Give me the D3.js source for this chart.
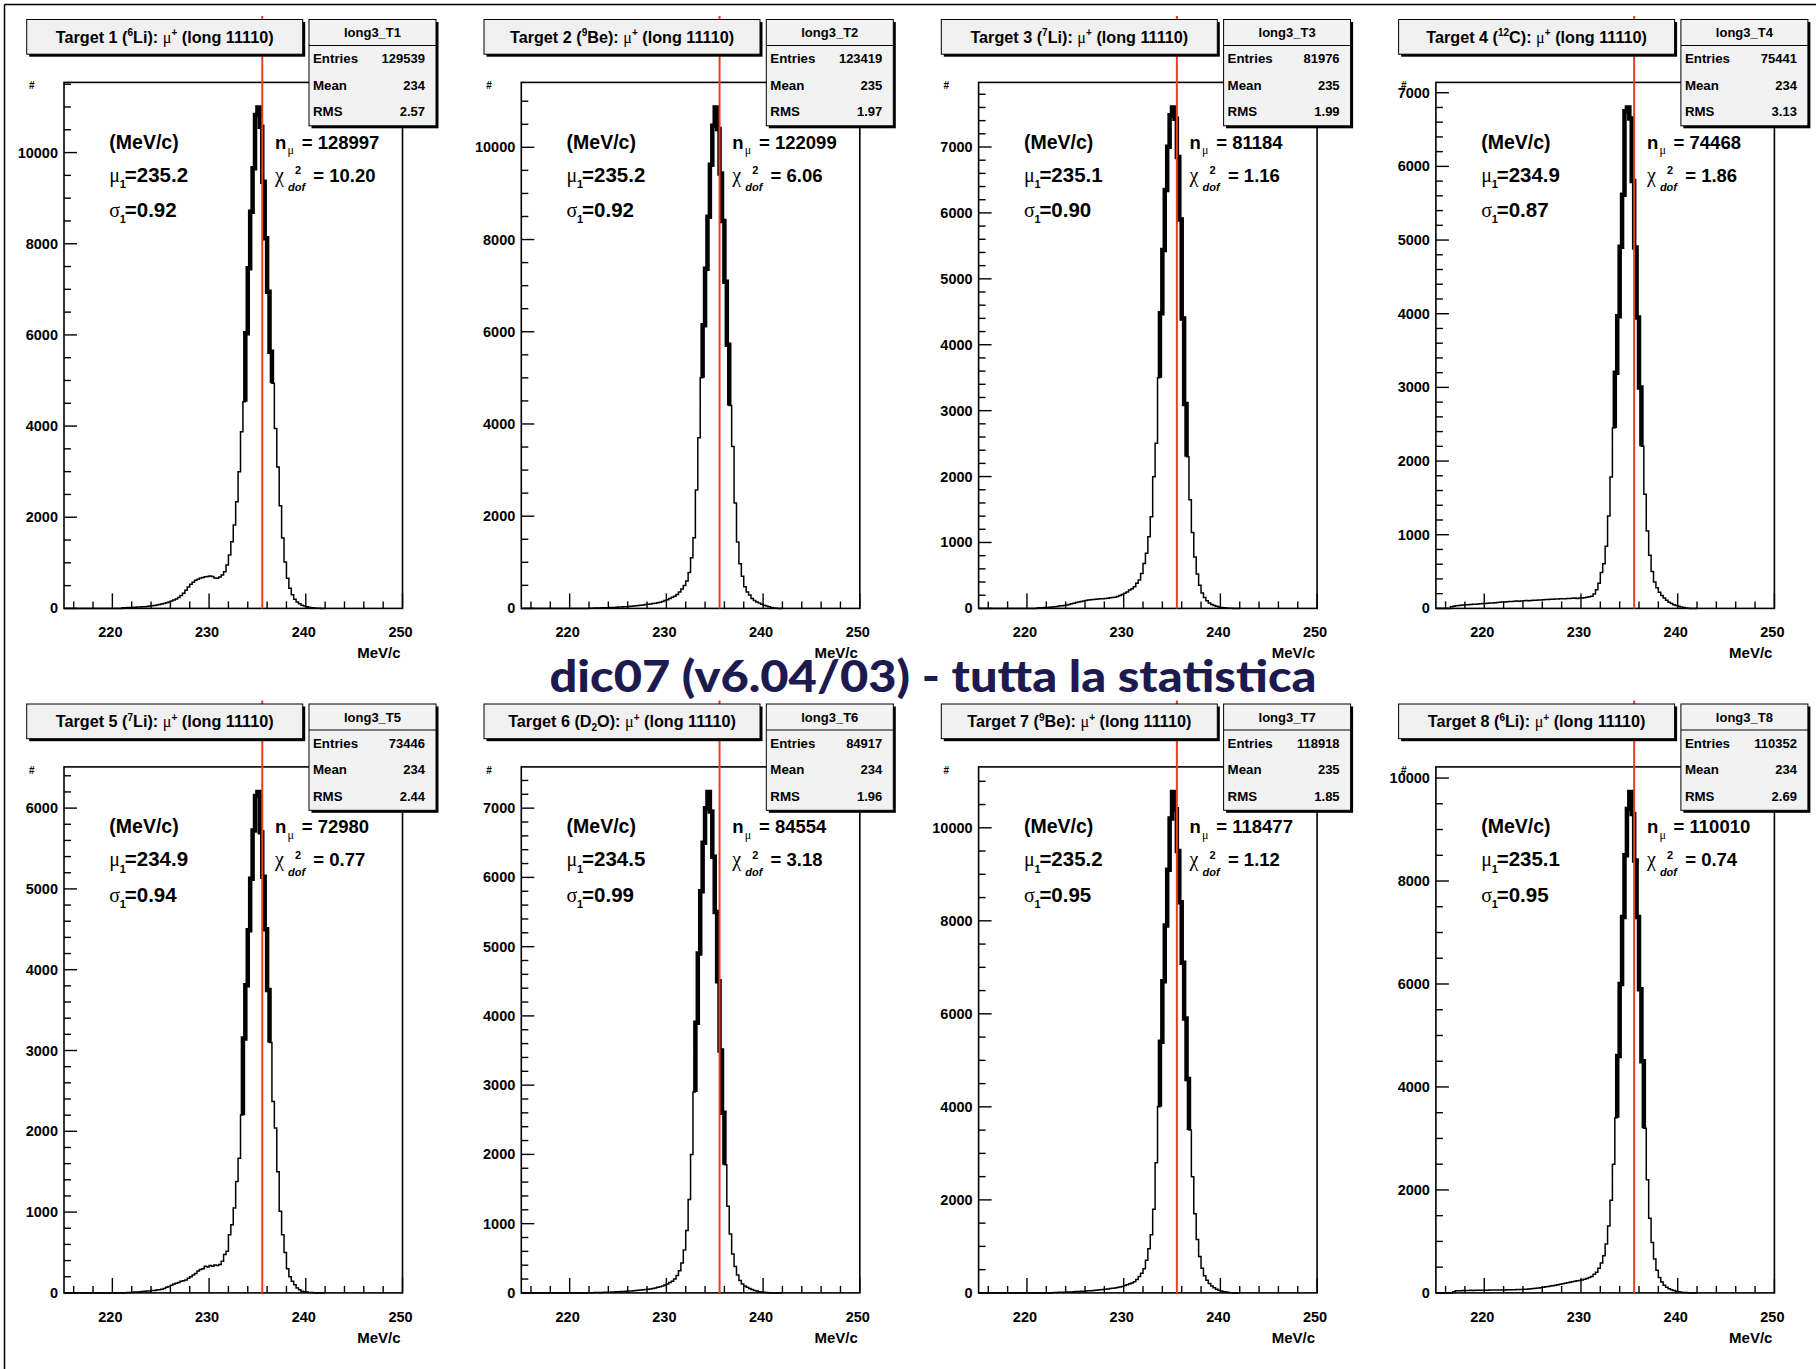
<!DOCTYPE html>
<html><head><meta charset="utf-8">
<script src="https://cdn.jsdelivr.net/npm/d3@7/dist/d3.min.js"></script>
<style>body{margin:0;background:#fff}svg{display:block}</style>
</head><body>
<script>
// ---------------- data ----------------
const binStart = 216, binWidth = 0.25;            // bins of 0.25 MeV/c, from 216 to 242
const xDomain = [215, 250];
const xMajorTicks = [220, 230, 240, 250];
const xMinorStep = 2;
const refLine = 235.5;                              // red reference line (MeV/c)

const histNames = ["long3_T1","long3_T2","long3_T3","long3_T4","long3_T5","long3_T6","long3_T7","long3_T8"];
const titles = [
  "Target 1 (^{6}Li): μ^{+} (long 11110)",
  "Target 2 (^{9}Be): μ^{+} (long 11110)",
  "Target 3 (^{7}Li): μ^{+} (long 11110)",
  "Target 4 (^{12}C): μ^{+} (long 11110)",
  "Target 5 (^{7}Li): μ^{+} (long 11110)",
  "Target 6 (D_{2}O): μ^{+} (long 11110)",
  "Target 7 (^{9}Be): μ^{+} (long 11110)",
  "Target 8 (^{6}Li): μ^{+} (long 11110)"
];
const entries = ["129539","123419","81976","75441","73446","84917","118918","110352"];
const means   = ["234","235","235","234","234","234","235","234"];
const rmss    = ["2.57","1.97","1.99","3.13","2.44","1.96","1.85","2.69"];
const nMu     = ["128997","122099","81184","74468","72980","84554","118477","110010"];
const chi2dof = ["10.20","6.06","1.16","1.86","0.77","3.18","1.12","0.74"];
const mu1     = [235.2, 235.2, 235.1, 234.9, 234.9, 234.5, 235.2, 235.1];
const sigma1  = [0.92, 0.92, 0.90, 0.87, 0.94, 0.99, 0.95, 0.95];
const yMajor  = [2000, 2000, 1000, 1000, 1000, 1000, 2000, 2000];
const yMinor  = [500, 500, 200, 200, 200, 200, 500, 500];
const mainTitle = "dic07 (v6.04/03) - tutta la statistica";

// bin contents, 4 bins per MeV/c, rows start at 216,217,...,241
const countsT1 = [
  0,0,0,0, 0,0,0,0, 0,0,0,0, 0,0,0,0, 0,0,0,0,
  12,15,18,20, 22,25,28,30, 35,38,44,50, 58,66,75,86, 98,110,126,142,
  160,182,205,238, 285,335,400,470, 530,575,615,640, 668,680,692,700, 712,698,668,662,
  690,735,804,951, 1170,1463,1828,2340, 2998,3876,4535,6035, 7461,8704,9655,10825,
  10990,10568,9362,8120, 6948,5632,4938,3949, 3100,2250,1545,1020, 660,440,300,200,
  140,100,70,50, 35,25,15,10, 6,3,0,0];
const countsT2 = [
  0,0,0,0, 0,0,0,0, 0,0,0,0, 0,0,0,0, 0,0,0,0, 0,0,0,0,
  3,5,6,8, 10,12,14,16, 18,20,22,25, 28,31,35,38, 42,47,52,58, 64,70,76,82,
  90,98,106,114, 122,135,150,170, 190,216,240,263, 300,357,420,499,
  593,780,1100,1533, 2568,3700,5000,6143, 7366,8495,9623,10470,
  10865,10400,9435,8400, 7083,5720,4402,3509, 2286,1439,969,700, 470,357,290,216,
  169,140,115,90, 70,50,35,20, 10,5,0,0];
const countsT3 = [
  0,0,0,0, 0,0,0,0, 0,0,0,0, 0,0,0,0, 0,0,0,0,
  5,8,10,12, 15,18,22,26, 30,35,40,45, 52,60,70,80, 90,98,106,112,
  120,126,132,136, 140,142,145,148, 150,155,160,165, 170,180,195,210, 228,250,278,300,
  329,380,430,531, 683,835,1087,1391, 1998,2504,3500,4476, 5437,6348,7005,7480,
  7600,7430,6850,5900, 4400,3100,2300,1650, 1150,780,520,350, 235,165,115,82,
  60,45,32,22, 15,10,6,3, 2,0,0,0];
const countsT4 = [
  0,0,22,28, 35,40,42,45, 48,50,52,55, 58,60,63,65, 68,70,73,75,
  78,80,84,88, 86,90,94,92, 96,100,98,102, 104,106,103,108, 110,112,115,113,
  118,122,120,124, 125,128,126,130, 132,130,136,134, 138,140,136,142, 140,145,150,158,
  165,194,253,342, 489,607,843,1255, 1785,2450,3200,3965, 4908,5615,6750,6800,
  6650,5800,4900,3950, 3000,2200,1550,1050, 720,500,360,280, 220,175,140,110,
  85,66,50,38, 28,20,12,6, 3,0,0,0];
const countsT5 = [
  0,0,0,0, 0,0,0,0, 0,0,0,0, 0,0,0,0, 0,0,0,0,
  0,3,5,6, 8,10,12,15, 18,20,22,25, 30,30,35,40, 45,55,70,80,
  95,110,120,130, 144,150,160,180, 200,220,240,270, 290,300,330,320, 340,330,345,340,
  350,391,474,515, 721,844,1050,1380, 1668,2203,3150,3809, 4489,5127,5724,6150,
  6200,5700,5150,4500, 3750,3100,2370,2040, 1500,1010,720,500, 300,200,145,100,
  62,40,21,15, 10,6,4,2, 0,0,0,0];
const countsT6 = [
  0,0,0,0, 0,0,0,0, 0,0,0,0, 0,0,0,0, 0,0,0,0, 0,0,0,0,
  2,3,4,5, 6,7,8,10, 11,12,14,16, 18,20,22,24, 26,29,32,35, 38,41,45,48,
  52,58,65,72, 80,90,100,115, 130,150,170,200, 250,320,430,620,
  900,1350,2000,2900, 3900,4900,5800,6500, 7000,7234,6950,6300,
  5500,4500,3500,2600, 1850,1250,850,560, 380,260,180,130, 100,80,62,48,
  36,26,18,12, 8,5,3,0, 0,0,0,0];
const countsT7 = [
  0,0,0,0, 0,0,0,0, 0,0,0,0, 0,0,0,0, 0,0,0,0, 0,0,0,0,
  0,0,5,7, 10,12,14,16, 18,20,22,25, 28,31,34,37, 40,44,48,52, 56,61,66,72,
  78,85,92,100, 108,118,128,140, 160,175,195,215, 240,290,350,420,
  520,700,950,1250, 1800,2800,4000,5400, 6700,7900,9100,10200,
  10771,10400,9500,8400, 7100,5900,4600,3500, 2500,1700,1150,780, 530,370,270,200,
  150,110,80,58, 40,27,17,9, 4,0,0,0];
const countsT8 = [
  0,0,0,20, 40,42,44,46, 48,47,50,49, 52,51,50,53, 50,52,55,54,
  55,57,56,58, 58,60,59,62, 62,64,66,68, 70,72,76,80, 85,90,95,100,
  110,118,125,132, 140,150,160,170, 180,188,195,205, 215,225,235,242, 250,265,280,300,
  320,360,400,480, 580,720,950,1300, 1800,2500,3400,4600, 6000,7300,8500,9400,
  9730,9300,8400,7300, 5900,4500,3200,2200, 1450,980,660,440, 300,210,150,110,
  80,60,45,32, 22,15,10,6, 3,0,0,0];
const allCounts = [countsT1,countsT2,countsT3,countsT4,countsT5,countsT6,countsT7,countsT8];

// ---------------- drawing ----------------
const W = 1816, H = 1369;
const FONT = "'Liberation Sans', Arial, Helvetica, sans-serif";
const GREEK = "'Liberation Serif', 'Times New Roman', serif";
const svg = d3.select("body").append("svg").attr("width", W).attr("height", H)
  .style("font-family", FONT).style("font-weight", "bold");
svg.append("rect").attr("width", W).attr("height", H).attr("fill", "#fff");
svg.append("line").attr("x1", 4.5).attr("y1", 4.5).attr("x2", W).attr("y2", 4.5).attr("stroke", "#000").attr("stroke-width", 1.5);
svg.append("line").attr("x1", 4.5).attr("y1", 4.5).attr("x2", 4.5).attr("y2", H).attr("stroke", "#000").attr("stroke-width", 1.5);

function richText(sel, str, size) {
  const parts = str.split(/(\^\{[^}]*\}|_\{[^}]*\}|μ)/).filter(s => s.length);
  let shift = 0;
  parts.forEach(p => {
    let dy = 0, txt = p, fs = size, greek = false;
    if (p.startsWith("^{")) { txt = p.slice(2, -1); fs = size * 0.62; dy = -size * 0.38; }
    else if (p.startsWith("_{")) { txt = p.slice(2, -1); fs = size * 0.62; dy = size * 0.22; }
    else if (p === "μ") { greek = true; }
    const t = sel.append("tspan").attr("dy", dy - shift).attr("font-size", fs).text(txt);
    if (greek) t.attr("font-family", GREEK).attr("font-weight", "normal");
    shift = dy;
  });
}

const colDX = 457.3, rowDY = 684.5;
const FL = 64, FR = 402.5, FT = 82.4, FB = 608.4;

allCounts.forEach((counts, i) => {
  const col = i % 4, row = Math.floor(i / 4);
  const g = svg.append("g").attr("transform", `translate(${col * colDX},${row * rowDY})`);
  const x = d3.scaleLinear().domain(xDomain).range([FL, FR]);
  const ymax = d3.max(counts) * 1.05;
  const y = d3.scaleLinear().domain([0, ymax]).range([FB, FT]);

  // frame
  g.append("rect").attr("x", FL).attr("y", FT).attr("width", FR - FL).attr("height", FB - FT)
    .attr("fill", "#fff").attr("stroke", "#000").attr("stroke-width", 1.6);

  // bins
  const bins = counts.map((c, k) => ({ x0: binStart + k * binWidth, x1: binStart + (k + 1) * binWidth, c }));
  const stepPts = [[x(xDomain[0]), y(0)], [x(binStart), y(0)]];
  bins.forEach(b => { stepPts.push([x(b.x0), y(b.c)]); stepPts.push([x(b.x1), y(b.c)]); });
  stepPts.push([x(bins[bins.length - 1].x1), y(0)]);
  g.append("path").attr("d", d3.line()(stepPts)).attr("fill", "none").attr("stroke", "#000")
    .attr("stroke-width", 1.5).attr("stroke-linejoin", "miter");

  // thick part (fit range mu +- 1.5 sigma)
  const lo = mu1[i] - 1.5 * sigma1[i], hi = mu1[i] + 1.5 * sigma1[i];
  const idx = bins.map((b, k) => k).filter(k => { const cc = (bins[k].x0 + bins[k].x1) / 2; return cc >= lo && cc <= hi; });
  const k0 = idx[0], k1 = idx[idx.length - 1];
  const thick = [[x(bins[k0].x0), y(bins[k0 - 1].c)]];
  for (let k = k0; k <= k1; k++) { thick.push([x(bins[k].x0), y(bins[k].c)]); thick.push([x(bins[k].x1), y(bins[k].c)]); }
  thick.push([x(bins[k1].x1), y(bins[k1 + 1].c)]);
  g.append("path").attr("d", d3.line()(thick)).attr("fill", "none").attr("stroke", "#000")
    .attr("stroke-width", 4.5).attr("stroke-linejoin", "miter");

  // y ticks
  const yMin = d3.range(0, ymax, yMinor[i]);
  g.selectAll(null).data(yMin).join("line")
    .attr("x1", FL).attr("x2", d => FL + (d % yMajor[i] === 0 ? 13 : 7))
    .attr("y1", d => y(d)).attr("y2", d => y(d)).attr("stroke", "#000").attr("stroke-width", 1.4);
  g.selectAll(null).data(d3.range(0, ymax, yMajor[i])).join("text")
    .attr("x", FL - 6).attr("y", d => y(d) + 5).attr("text-anchor", "end").attr("font-size", 14.5).text(d => d);
  g.append("text").attr("x", FL - 35).attr("y", FT + 7).attr("font-size", 10).text("#");

  // x ticks
  g.selectAll(null).data(d3.range(216, 250.01, xMinorStep)).join("line")
    .attr("x1", d => x(d)).attr("x2", d => x(d)).attr("y1", FB)
    .attr("y2", d => FB - (xMajorTicks.includes(d) ? 15 : 7)).attr("stroke", "#000").attr("stroke-width", 1.4);
  g.selectAll(null).data(xMajorTicks).join("text")
    .attr("x", d => x(d) - 2).attr("y", FB + 29).attr("text-anchor", "middle").attr("font-size", 14.5).text(d => d);
  g.append("text").attr("x", FR - 2).attr("y", FB + 50).attr("text-anchor", "end").attr("font-size", 15).text("MeV/c");

  // red reference line
  g.append("line").attr("x1", x(refLine)).attr("x2", x(refLine)).attr("y1", 16).attr("y2", FB)
    .attr("stroke", "#f03a22").attr("stroke-width", 2);

  // title box
  g.append("rect").attr("x", 29.2).attr("y", 22).attr("width", 276).attr("height", 34.7).attr("fill", "#000");
  g.append("rect").attr("x", 26.7).attr("y", 19.5).attr("width", 276).attr("height", 34.7)
    .attr("fill", "#f0f0f0").attr("stroke", "#000").attr("stroke-width", 1);
  richText(g.append("text").attr("x", 164.7).attr("y", 42.5).attr("text-anchor", "middle"), titles[i], 16.2);

  // stats box
  const sx = 309, sw = 127, sy = 19.5, sh = 106.3;
  g.append("rect").attr("x", sx + 2.5).attr("y", sy + 2.5).attr("width", sw).attr("height", sh).attr("fill", "#000");
  g.append("rect").attr("x", sx).attr("y", sy).attr("width", sw).attr("height", sh)
    .attr("fill", "#f2f2f2").attr("stroke", "#000").attr("stroke-width", 1);
  g.append("line").attr("x1", sx).attr("x2", sx + sw).attr("y1", 45.5).attr("y2", 45.5).attr("stroke", "#000").attr("stroke-width", 1);
  g.append("text").attr("x", sx + sw / 2).attr("y", 37).attr("text-anchor", "middle").attr("font-size", 13).text(histNames[i]);
  const rows = [["Entries", entries[i]], ["Mean", means[i]], ["RMS", rmss[i]]];
  rows.forEach((r, k) => {
    const by = 63 + k * 26.7;
    g.append("text").attr("x", sx + 4).attr("y", by).attr("font-size", 13.3).text(r[0]);
    g.append("text").attr("x", sx + sw - 11).attr("y", by).attr("text-anchor", "end").attr("font-size", 13).text(r[1]);
  });

  // fit results
  const fs = 18.5, fsl = 20.5, sub = 11;
  const lx = FL + 45.3, rx = FL + 211;
  g.append("text").attr("x", lx).attr("y", 148.5).attr("font-size", 19.5).text("(MeV/c)");
  g.append("text").attr("x", lx).attr("y", 181.7).attr("font-size", 20).attr("font-family", GREEK).attr("font-weight", "normal").text("μ");
  g.append("text").attr("x", lx + 10.5).attr("y", 188).attr("font-size", sub).text("1");
  g.append("text").attr("x", lx + 15.5).attr("y", 181.7).attr("font-size", fsl).text("=" + mu1[i].toFixed(1));
  g.append("text").attr("x", lx).attr("y", 217).attr("font-size", 20).attr("font-family", GREEK).attr("font-weight", "normal").text("σ");
  g.append("text").attr("x", lx + 10.5).attr("y", 223).attr("font-size", sub).text("1");
  g.append("text").attr("x", lx + 15.5).attr("y", 217).attr("font-size", fsl).text("=" + sigma1[i].toFixed(2));
  g.append("text").attr("x", rx).attr("y", 148.5).attr("font-size", fs).text("n");
  g.append("text").attr("x", rx + 12.5).attr("y", 154).attr("font-size", 12).attr("font-family", GREEK).attr("font-weight", "normal").text("μ");
  g.append("text").attr("x", rx + 26.7).attr("y", 148.5).attr("font-size", fs).text("= " + nMu[i]);
  g.append("text").attr("x", rx).attr("y", 181.7).attr("font-size", 20).attr("font-family", GREEK).attr("font-weight", "normal").text("χ");
  g.append("text").attr("x", rx + 20).attr("y", 174).attr("font-size", sub).text("2");
  g.append("text").attr("x", rx + 13).attr("y", 191).attr("font-size", sub).attr("font-style", "italic").text("dof");
  g.append("text").attr("x", rx + 38.3).attr("y", 181.7).attr("font-size", fs).text("= " + chi2dof[i]);
});

// main title
svg.append("text").attr("x", 933).attr("y", 692).attr("text-anchor", "middle")
  .attr("font-family", "Lato, 'Open Sans', sans-serif").attr("font-weight", 900)
  .attr("font-size", 44).attr("fill", "#1c1a4e")
  .attr("textLength", 767).attr("lengthAdjust", "spacingAndGlyphs").text(mainTitle);
</script>
</body></html>
